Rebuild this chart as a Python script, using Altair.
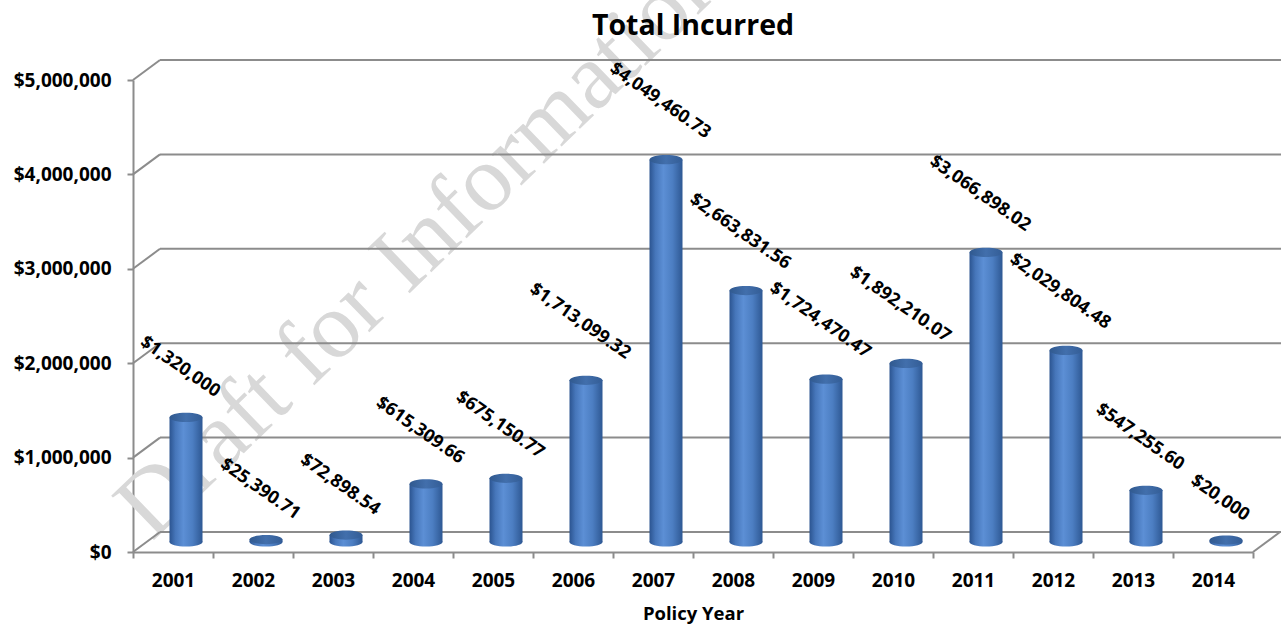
import math
import altair as alt
import pandas as pd

# Total incurred by policy year
years = ["2001", "2002", "2003", "2004", "2005", "2006", "2007",
         "2008", "2009", "2010", "2011", "2012", "2013", "2014"]
incurred = [1320000.00, 25390.71, 72898.54, 615309.66, 675150.77, 1713099.32,
            4049460.73, 2663831.56, 1724470.47, 1892210.07, 3066898.02,
            2029804.48, 547255.60, 20000.00]
y_ticks = [0, 1000000, 2000000, 3000000, 4000000, 5000000]

# geometry of the pseudo-3D frame
W, H = 1120, 472
Y_MAX = 5000000
DEPTH_X, DEPTH_Y = 27, -20      # back wall offset
MID_X, MID_Y = 13, -10          # cylinders stand halfway back
CYL_W = 33

FONT = "Open Sans"
GRAY = "#8c8c8c"
LABEL_SIZE = 18
LABEL_ANGLE = 35

df = pd.DataFrame({"year": years, "incurred": incurred})
grid = pd.DataFrame({"tick": y_ticks})

x_scale = alt.Scale(domain=years, paddingInner=0, paddingOuter=0)
y_scale = alt.Scale(domain=[0, Y_MAX], nice=False, zero=True)

x_axis = alt.Axis(
    title="Policy Year", labelAngle=0, tickBand="extent",
    domainColor=GRAY, domainWidth=2, tickColor=GRAY, tickWidth=2,
    tickSize=6, labelFont=FONT, labelFontSize=19, labelFontWeight="bold",
    labelColor="black", labelPadding=13, titleFont=FONT,
    titleFontSize=18.5, titleFontWeight="bold", titleColor="black",
    titlePadding=14, grid=False,
)
y_axis = alt.Axis(
    values=y_ticks, format="$,.0f", title=None, grid=False,
    domainColor=GRAY, domainWidth=2, tickColor=GRAY, tickWidth=2,
    tickSize=6, labelFont=FONT, labelFontSize=19,
    labelFontWeight="bold", labelColor="black", labelPadding=16,
)


def xq():
    return alt.X("year:N", scale=x_scale, axis=x_axis)


def yq(field):
    return alt.Y(field, scale=y_scale, axis=y_axis)


# back wall gridlines and the short depth connectors
back_lines = alt.Chart(grid).mark_rule(
    color=GRAY, strokeWidth=2, yOffset=DEPTH_Y
).encode(
    x=alt.value(DEPTH_X), x2=alt.value(W + 2 * DEPTH_X),
    y=yq("tick:Q"),
)
connectors = alt.Chart(grid).mark_rule(
    color=GRAY, strokeWidth=2, y2Offset=DEPTH_Y
).encode(
    x=alt.value(0), x2=alt.value(DEPTH_X),
    y=yq("tick:Q"),
    y2="tick:Q",
)
floor_right = alt.Chart(pd.DataFrame({"tick": [0]})).mark_rule(
    color=GRAY, strokeWidth=2, y2Offset=DEPTH_Y
).encode(
    x=alt.value(W), x2=alt.value(W + DEPTH_X),
    y=yq("tick:Q"),
    y2="tick:Q",
)

body_fill = alt.Gradient(
    gradient="linear", x1=0, x2=1, y1=0, y2=0,
    stops=[
        alt.GradientStop(offset=0.0, color="#2b5490"),
        alt.GradientStop(offset=0.18, color="#4676ba"),
        alt.GradientStop(offset=0.42, color="#5c8fd5"),
        alt.GradientStop(offset=0.7, color="#4c7ec2"),
        alt.GradientStop(offset=1.0, color="#2e5893"),
    ],
)
top_fill = alt.Gradient(
    gradient="linear", x1=0, x2=1, y1=0, y2=0,
    stops=[
        alt.GradientStop(offset=0.0, color="#30598f"),
        alt.GradientStop(offset=0.5, color="#426fac"),
        alt.GradientStop(offset=1.0, color="#335d96"),
    ],
)

K = 0.28
ellipse = (
    f"M-1,0C-1,{-K*0.552:.4f},-0.552,{-K},0,{-K}"
    f"C0.552,{-K},1,{-K*0.552:.4f},1,0"
    f"C1,{K*0.552:.4f},0.552,{K},0,{K}"
    f"C-0.552,{K},-1,{K*0.552:.4f},-1,0Z"
)

base = alt.Chart(df)

bottoms = base.transform_calculate(zero="0").mark_point(
    shape=ellipse, size=CYL_W * CYL_W, filled=True, fill=body_fill,
    opacity=1, strokeWidth=0, xOffset=MID_X, yOffset=MID_Y,
).encode(x=xq(), y=yq("zero:Q"))

bodies = base.mark_bar(
    width=CYL_W, fill=body_fill, xOffset=MID_X, yOffset=MID_Y, y2Offset=MID_Y,
).encode(x=xq(), y=yq("incurred:Q"), y2=alt.datum(0))

tops = base.mark_point(
    shape=ellipse, size=CYL_W * CYL_W, filled=True, fill=top_fill,
    opacity=1, strokeWidth=0, xOffset=MID_X, yOffset=MID_Y,
).encode(x=xq(), y=yq("incurred:Q"))

# rotated value labels, lifted so the rotated box clears the cylinder top
sin_a = math.sin(math.radians(LABEL_ANGLE))
cos_a = math.cos(math.radians(LABEL_ANGLE))
px_to_value = Y_MAX / H
labels = base.transform_calculate(
    label="datum.incurred % 1 == 0 ? format(datum.incurred, '$,.0f') "
          ": format(datum.incurred, '$,.2f')"
).transform_calculate(
    lift=f"(15 + (length(datum.label) * 9.8 * {sin_a:.4f} + "
         f"{LABEL_SIZE} * {cos_a:.4f}) / 2 + {-MID_Y}) * {px_to_value:.4f}"
).transform_calculate(
    label_y="datum.incurred + datum.lift"
).mark_text(
    angle=LABEL_ANGLE, font=FONT, fontSize=LABEL_SIZE, fontWeight="bold",
    color="black", align="center", baseline="middle", xOffset=MID_X - 6,
).encode(x=xq(), y=yq("label_y:Q"), text="label:N")

watermark = alt.Chart(alt.Data(values=[{"t": "Draft for Information"}])).mark_text(
    angle=316, font="Liberation Serif", fontSize=94, color="#d8d8d8",
    align="left", baseline="alphabetic",
).encode(x=alt.value(19), y=alt.value(462), text="t:N")

title = alt.Chart(alt.Data(values=[{"t": "Total Incurred"}])).mark_text(
    font=FONT, fontSize=28.5, fontWeight="bold", color="black",
    align="center", baseline="middle",
).encode(x=alt.value(W / 2), y=alt.value(-54), text="t:N")

chart = alt.layer(
    watermark, back_lines, connectors, floor_right,
    bottoms, bodies, tops, labels, title,
).properties(
    width=W, height=H,
    padding={"left": 133, "top": 80, "right": 28, "bottom": 74},
    autosize=alt.AutoSizeParams(type="none"),
    background="white",
).configure_view(stroke=None)

chart.save("out.html", embed_options={"renderer": "svg", "actions": False})
